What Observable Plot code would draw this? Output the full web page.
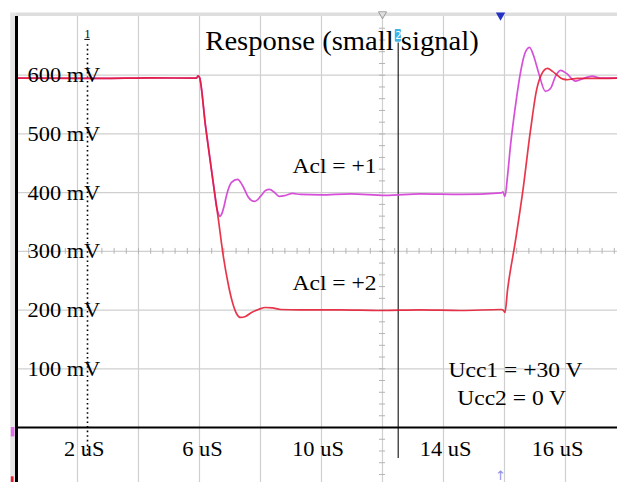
<!DOCTYPE html>
<html><head><meta charset="utf-8">
<script src="https://cdn.jsdelivr.net/npm/d3@7"></script>
<script src="https://cdn.jsdelivr.net/npm/@observablehq/plot@0.6"></script>
<style>html,body{margin:0;padding:0;background:#fff;} #chart{width:617px;height:482px;overflow:hidden}</style>
</head><body><div id="chart"></div>
<script>
// ---------------- data ----------------
const titleText = "Response (small signal)";
const yTicks = [100, 200, 300, 400, 500, 600];
const yTickLabels = ["100 mV", "200 mV", "300 mV", "400 mV", "500 mV", "600 mV"];
const xTickPos = [2.22, 6.10, 9.885, 14.066, 17.738];
const xTickLabels = ["2 uS", "6 uS", "10 uS", "14 uS", "16 uS"];
const gridX = [2, 4, 6, 8, 10, 12, 14, 16, 18];
const gridY = [100, 200, 300, 400, 500, 600];
const seriesNames = ["Acl = +1", "Acl = +2"];
const notes = ["Ucc1 = +30 V", "Ucc2 = 0 V"];

// Acl = +1 (magenta): time (uS), voltage (mV)
const acl1T = [0, 2.754, 4.393, 5.902, 5.951, 6.0, 6.197, 6.361, 6.492, 6.557, 6.623, 6.672, 6.721, 6.803, 6.885, 7.049, 7.246, 7.410, 7.607, 7.803, 8.0, 8.164, 8.295, 8.459, 8.623, 8.820, 9.049, 9.311, 9.967, 10.951, 12.098, 13.246, 14.557, 15.892, 15.951, 16.016, 16.098, 16.197, 16.361, 16.525, 16.656, 16.820, 16.951, 17.115, 17.344, 17.508, 17.672, 17.836, 18.033, 18.328, 18.590, 18.875, 19.148, 19.705];
const acl1V = [595.1, 594.5, 595.4, 595.1, 598.8, 596.3, 514.5, 451.4, 400.3, 376.5, 363.7, 359.5, 362.9, 376.5, 395.2, 417.4, 422.5, 412.3, 391.8, 385.0, 393.5, 403.7, 405.5, 400.3, 393.5, 395.2, 398.6, 396.9, 396.1, 397.8, 395.2, 397.8, 396.9, 399.5, 401.2, 393.5, 427.6, 480.4, 548.6, 604.8, 635.4, 647.4, 633.7, 604.8, 572.4, 577.5, 598.0, 608.2, 603.1, 590.0, 594.5, 598.5, 595.1, 595.1];

// Acl = +2 (red)
const acl2T = [0, 2.754, 4.393, 5.902, 5.951, 6.0, 6.197, 6.426, 6.623, 6.787, 6.951, 7.082, 7.213, 7.344, 7.508, 7.705, 7.934, 8.164, 8.393, 8.656, 9.311, 10.623, 11.934, 13.246, 14.557, 15.892, 15.951, 16.016, 16.098, 16.361, 16.590, 16.852, 17.049, 17.213, 17.410, 17.574, 17.738, 17.902, 18.066, 18.230, 18.393, 18.820, 19.705];
const acl2V = [595.1, 594.5, 595.4, 595.1, 598.8, 596.3, 512.8, 425.9, 352.6, 289.6, 241.9, 212.9, 194.2, 187.4, 189.1, 195.9, 201.0, 204.4, 203.6, 201.0, 200.2, 200.2, 199.3, 200.2, 199.3, 201.0, 200.2, 195.9, 233.4, 318.6, 398.6, 506.0, 574.1, 601.4, 611.6, 606.5, 599.7, 593.7, 592.3, 593.7, 594.5, 594.5, 595.1];

// ---------------- build ----------------
const acl1 = acl1T.map((t, i) => ({t, v: acl1V[i]}));
const acl2 = acl2T.map((t, i) => ({t, v: acl2V[i]}));
const xMax = 19.705, yMin = -94, yMax = 700;
const font = "'Liberation Serif', 'Times New Roman', serif";
const minorX = d3.range(0.4, 19.7, 0.4);
const minorY = d3.range(-80, 700, 20);

const plot = Plot.plot({
  width: 617, height: 482,
  marginTop: 16, marginRight: 0, marginBottom: 55, marginLeft: 16,
  x: {domain: [0, xMax], axis: null},
  y: {domain: [0, yMax], axis: null},
  style: {background: "white", fontFamily: font, overflow: "visible"},
  marks: [
    // frame bands
    Plot.rect([0], {x1: 0, x2: xMax, y1: yMax, y2: yMax + 6, fill: "#dedede", inset: 0}),
    Plot.rect([0], {x1: -0.19, x2: 0, y1: yMin, y2: yMax + 6, fill: "#e6e6e6", inset: 0}),
    // grid
    Plot.ruleX(gridX, {y1: yMin, y2: yMax, stroke: "#cfcfcf", strokeWidth: 1.2}),
    Plot.ruleY(gridY, {x1: 0, x2: xMax, stroke: "#cfcfcf", strokeWidth: 1.2}),
    // centre axes minor ticks
    Plot.ruleX(minorX, {y1: 295, y2: 305, stroke: "#b4b4b4", strokeWidth: 1}),
    Plot.ruleY(minorY, {x1: 11.9, x2: 12.1, stroke: "#b4b4b4", strokeWidth: 1}),
    // cursor 1 (dotted) and cursor 2 (solid)
    Plot.ruleX([2.328], {y1: -48, y2: 657, stroke: "black", strokeWidth: 1.6, strokeDasharray: "1.6,3"}),
    Plot.ruleX([12.515], {y1: -53, y2: 655, stroke: "#222", strokeWidth: 1.2}),
    // traces
    Plot.line(acl1, {x: "t", y: "v", stroke: "#d64fd8", strokeWidth: 1.7, curve: "monotone-x"}),
    Plot.line(acl2, {x: "t", y: "v", stroke: "#e4142e", strokeWidth: 1.7, strokeOpacity: 0.85, curve: "monotone-x"}),
    // borders
    Plot.ruleX([0], {y1: yMin, y2: yMax, stroke: "black", strokeWidth: 3}),
    Plot.ruleY([0], {x1: 0, x2: xMax, stroke: "black", strokeWidth: 2.2}),
    // tick labels
    Plot.text(yTicks, {x: 0, y: d => d, text: (d, i) => yTickLabels[i], textAnchor: "start", lineAnchor: "bottom", dx: 11, dy: 7, fontSize: 20, fill: "black"}),
    Plot.text(xTickPos, {x: d => d, y: 0, text: (d, i) => xTickLabels[i], textAnchor: "middle", lineAnchor: "bottom", dy: 28, fontSize: 20, fill: "black"}),
    // annotations
    Plot.text([titleText], {x: 10.672, y: 642.2, text: d => d, textAnchor: "middle", lineAnchor: "bottom", fontSize: 27, fill: "black"}),
    Plot.text([seriesNames[0]], {x: 9.049, y: 432.7, text: d => d, textAnchor: "start", lineAnchor: "bottom", fontSize: 21, fill: "black"}),
    Plot.text([seriesNames[1]], {x: 9.049, y: 233.4, text: d => d, textAnchor: "start", lineAnchor: "bottom", fontSize: 21, fill: "black"}),
    Plot.text([notes[0]], {x: 14.164, y: 85.2, text: d => d, textAnchor: "start", lineAnchor: "bottom", fontSize: 21, fill: "black"}),
    Plot.text([notes[1]], {x: 14.449, y: 37.5, text: d => d, textAnchor: "start", lineAnchor: "bottom", fontSize: 21, fill: "black"}),
    // cursor markers
    Plot.text(["1"], {x: 2.328, y: 664, text: d => d, textAnchor: "middle", lineAnchor: "bottom", fontSize: 12, fill: "black"}),
    Plot.ruleY([661], {x1: 2.24, x2: 2.42, stroke: "black", strokeWidth: 1}),
    Plot.rect([0], {x1: 12.42, x2: 12.62, y1: 656, y2: 678, fill: "#3cb4e6", rx: 1}),
    Plot.text(["2"], {x: 12.52, y: 661, text: d => d, textAnchor: "middle", lineAnchor: "bottom", fontSize: 10, fill: "white", fontFamily: "'DejaVu Sans', sans-serif"}),
    Plot.dot([0], {x: 12, y: 704, symbol: "triangle", r: 3, rotate: 180, stroke: "#999", fill: "none", strokeWidth: 1}),
    Plot.dot([0], {x: 15.87, y: 702, symbol: "triangle", r: 3.5, rotate: 180, fill: "#2433c4", stroke: "none"}),
    Plot.text(["↑"], {x: 15.87, y: yMin, text: d => d, textAnchor: "middle", lineAnchor: "bottom", dy: -3, fontSize: 13, fill: "#8f8fe6", fontFamily: "'DejaVu Sans', sans-serif"}),
    Plot.rect([0], {x1: -0.17, x2: -0.05, y1: -16, y2: 0, fill: "#e070e8"}),
    Plot.rect([0], {x1: -0.17, x2: -0.08, y1: yMin, y2: -84, fill: "#e02030"})
  ]
});
document.getElementById("chart").appendChild(plot);

// slightly widen serif glyphs to match the reference's horizontally stretched text
plot.querySelectorAll("text").forEach(t => {
  const s = t.textContent;
  const k = s === titleText ? 1.06 : (s.length > 2 ? 1.12 : 1);
  if (k !== 1) {
    const L = t.getComputedTextLength();
    t.setAttribute("textLength", (L * k).toFixed(1));
    t.setAttribute("lengthAdjust", "spacingAndGlyphs");
  }
});
</script>
</body></html>
